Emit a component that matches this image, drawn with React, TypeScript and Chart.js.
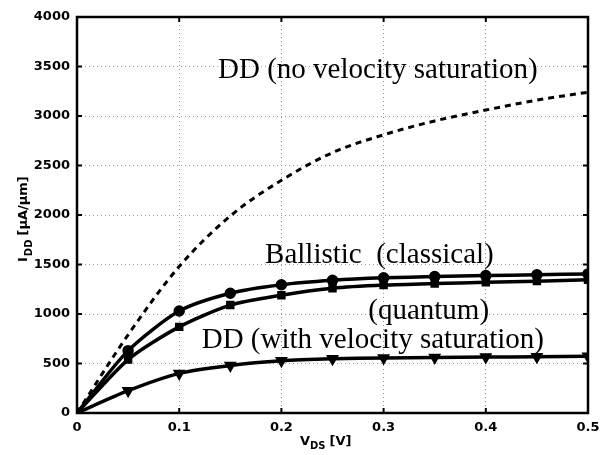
import { useEffect, useRef } from "react";
import { Chart, registerables } from "chart.js";

Chart.register(...registerables);

// Drain bias V_DS [V]
const vds = [0, 0.05, 0.1, 0.15, 0.2, 0.25, 0.3, 0.35, 0.4, 0.45, 0.5];

// Drain current I_DD [uA/um]
const ballisticClassical = [0, 630, 1030, 1210, 1295, 1340, 1365, 1378, 1388, 1396, 1405];
const ballisticQuantum = [0, 540, 870, 1090, 1190, 1260, 1292, 1308, 1320, 1332, 1345];
const ddVelSat = [0, 225, 400, 480, 528, 548, 556, 561, 565, 568, 572];
const ddNoVelSat = [0, 790, 1480, 1990, 2350, 2630, 2810, 2950, 3060, 3160, 3240];

const xTicks = [0, 0.1, 0.2, 0.3, 0.4, 0.5];
const yTicks = [0, 500, 1000, 1500, 2000, 2500, 3000, 3500, 4000];

const labelNoSat = "DD (no velocity saturation)";
const labelClassical = "Ballistic  (classical)";
const labelQuantum = "(quantum)";
const labelVelSat = "DD (with velocity saturation)";

const serifFont = "29px 'Liberation Serif', 'Times New Roman', serif";
const boldSans = (px: number) => `bold ${px}px 'DejaVu Sans', sans-serif`;

const pts = (ys: number[]) => vds.map((x, i) => ({ x, y: ys[i] }));

const framePlugin = {
  id: "frame",
  afterDraw(chart: any) {
    const { ctx, chartArea: a, scales } = chart;
    const xs = scales.x;
    const ys = scales.y;
    ctx.save();

    // box
    ctx.strokeStyle = "#000";
    ctx.lineWidth = 2.5;
    ctx.strokeRect(a.left, a.top, a.right - a.left, a.bottom - a.top);

    // inward tick marks on all four sides
    ctx.lineWidth = 2;
    const tl = 5;
    ctx.beginPath();
    xTicks.forEach((t) => {
      const px = xs.getPixelForValue(t);
      ctx.moveTo(px, a.bottom);
      ctx.lineTo(px, a.bottom - tl);
      ctx.moveTo(px, a.top);
      ctx.lineTo(px, a.top + tl);
    });
    yTicks.forEach((t) => {
      const py = ys.getPixelForValue(t);
      ctx.moveTo(a.left, py);
      ctx.lineTo(a.left + tl, py);
      ctx.moveTo(a.right, py);
      ctx.lineTo(a.right - tl, py);
    });
    ctx.stroke();

    // curve annotations
    ctx.fillStyle = "#000";
    ctx.font = serifFont;
    ctx.textAlign = "left";
    ctx.textBaseline = "middle";
    const put = (s: string, x: number, y: number) =>
      ctx.fillText(s, xs.getPixelForValue(x), ys.getPixelForValue(y));
    put(labelNoSat, 0.138, 3460);
    put(labelClassical, 0.184, 1590);
    put(labelQuantum, 0.285, 1030);
    put(labelVelSat, 0.122, 730);

    // y-axis title: I_DD [uA/um]
    ctx.save();
    ctx.translate(a.left - 50, (a.top + a.bottom) / 2 + 47);
    ctx.rotate(-Math.PI / 2);
    ctx.textBaseline = "alphabetic";
    ctx.font = boldSans(13);
    ctx.fillText("I", 0, 0);
    let off = ctx.measureText("I").width + 1;
    ctx.font = boldSans(10);
    ctx.fillText("DD", off, 5);
    off += ctx.measureText("DD").width + 4;
    ctx.font = boldSans(13);
    ctx.fillText("[\u03bcA/\u03bcm]", off, 0);
    ctx.restore();

    // x-axis title: V_DS [V]
    ctx.save();
    ctx.textBaseline = "alphabetic";
    ctx.font = boldSans(13);
    let xx = 300;
    const base = a.bottom + 32;
    ctx.fillText("V", xx, base);
    xx += ctx.measureText("V").width;
    ctx.font = boldSans(10);
    ctx.fillText("DS", xx, base + 4);
    xx += ctx.measureText("DS").width + 4;
    ctx.font = boldSans(13);
    ctx.fillText("[V]", xx, base);
    ctx.restore();

    ctx.restore();
  },
};

export default function App() {
  const ref = useRef<HTMLCanvasElement | null>(null);

  useEffect(() => {
    if (!ref.current) return;
    const solid = {
      borderColor: "#000",
      backgroundColor: "#000",
      borderWidth: 3.5,
      pointBorderColor: "#000",
      pointBackgroundColor: "#000",
      fill: false,
      tension: 0.25,
    };
    const tickFont = { family: "'DejaVu Sans', sans-serif", size: 13, weight: "bold" as const };
    const chart = new Chart(ref.current, {
      type: "line",
      data: {
        datasets: [
          {
            label: "DD (no velocity saturation)",
            data: pts(ddNoVelSat),
            borderColor: "#000",
            borderWidth: 3,
            borderDash: [6, 5],
            pointRadius: 0,
            fill: false,
            cubicInterpolationMode: "monotone",
          },
          {
            ...solid,
            label: "Ballistic (classical)",
            data: pts(ballisticClassical),
            pointStyle: "circle",
            pointRadius: 4,
          },
          {
            ...solid,
            label: "Ballistic (quantum)",
            data: pts(ballisticQuantum),
            pointStyle: "rect",
            pointRadius: 3.5,
          },
          {
            ...solid,
            label: "DD (with velocity saturation)",
            data: pts(ddVelSat),
            pointStyle: "triangle",
            rotation: 180,
            pointRadius: 4,
          },
        ],
      },
      options: {
        responsive: false,
        animation: false,
        layout: { padding: { top: 17, right: 15, left: 0, bottom: 0 } },
        plugins: {
          legend: { display: false },
          tooltip: { enabled: false },
        },
        scales: {
          x: {
            type: "linear",
            min: 0,
            max: 0.5,
            afterFit: (s: any) => {
              s.height = 42;
              s.paddingLeft = 0;
              s.paddingRight = 0;
            },
            afterBuildTicks: (s: any) => {
              s.ticks = xTicks.map((v) => ({ value: v }));
            },
            ticks: {
              color: "#000",
              font: tickFont,
              padding: 7,
              maxRotation: 0,
              callback: (v: any) => String(v),
            },
            grid: { color: "#999", lineWidth: 1, drawTicks: false },
            border: { display: false, dash: [1, 3] },
          },
          y: {
            type: "linear",
            min: 0,
            max: 4000,
            afterFit: (s: any) => {
              s.width = 77;
              s.paddingTop = 0;
              s.paddingBottom = 0;
            },
            afterBuildTicks: (s: any) => {
              s.ticks = yTicks.map((v) => ({ value: v }));
            },
            ticks: {
              color: "#000",
              font: tickFont,
              padding: 7,
              callback: (v: any) => String(v),
            },
            grid: { color: "#999", lineWidth: 1, drawTicks: false },
            border: { display: false, dash: [1, 3] },
          },
        },
      },
      plugins: [framePlugin],
    });
    return () => chart.destroy();
  }, []);

  return (
    <div style={{ position: "absolute", left: 0, top: 0, width: 603, height: 455, background: "#fff" }}>
      <canvas ref={ref} width={603} height={455} />
    </div>
  );
}
